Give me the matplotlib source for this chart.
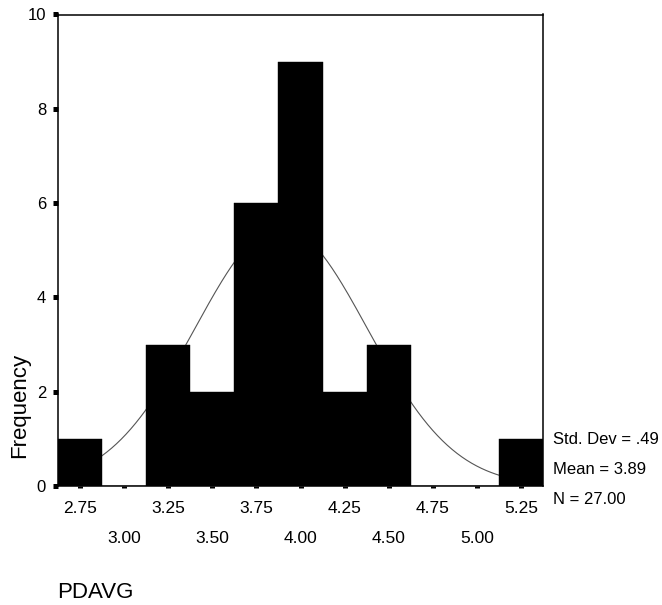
import matplotlib
matplotlib.use("Agg")
import matplotlib.pyplot as plt
import numpy as np

# histogram of PDAVG (bin midpoints, width .25)
bin_centers = [2.75, 3.00, 3.25, 3.50, 3.75, 4.00, 4.25, 4.50, 4.75, 5.00, 5.25]
counts = [1, 0, 3, 2, 6, 9, 2, 3, 0, 0, 1]
bin_width = 0.25

# summary stats printed beside the chart
std_dev = 0.49
mean = 3.89
n_cases = 27

row1_ticks = [2.75, 3.25, 3.75, 4.25, 4.75, 5.25]
row2_ticks = [3.00, 3.50, 4.00, 4.50, 5.00]
y_ticks = [0, 2, 4, 6, 8, 10]

plt.rcParams["font.family"] = ["Liberation Sans", "DejaVu Sans"]

fig = plt.figure(figsize=(6.62, 6.05), dpi=100)
ax = fig.add_axes([58 / 662, 119 / 605, 485 / 662, 471.5 / 605])

ax.bar(bin_centers, counts, width=bin_width, color="black",
       edgecolor="black", linewidth=0.3, zorder=3)

# normal curve scaled to the histogram
lo, hi = bin_centers[0] - bin_width / 2, bin_centers[-1] + bin_width / 2
xs = np.linspace(lo, hi, 300)
pdf = np.exp(-0.5 * ((xs - mean) / std_dev) ** 2) / (std_dev * np.sqrt(2 * np.pi))
ax.plot(xs, n_cases * bin_width * pdf, color="#555555", lw=0.8, zorder=2)

ax.set_xlim(lo, hi)
ax.set_ylim(0, 10)

ax.set_xticks(row1_ticks)
ax.set_xticklabels([f"{t:.2f}" for t in row1_ticks])
ax.set_xticks(row2_ticks, minor=True)
ax.set_xticklabels([f"{t:.2f}" for t in row2_ticks], minor=True)
ax.tick_params(axis="x", which="major", direction="out", length=1.5,
               width=3.6, pad=9.5, labelsize=12.5)
ax.tick_params(axis="x", which="minor", direction="out", length=1.5,
               width=3.6, pad=31, labelsize=12.5)

ax.set_yticks(y_ticks)
ax.tick_params(axis="y", direction="out", length=3.6, width=3.6,
               pad=5, labelsize=12)

for s in ax.spines.values():
    s.set_linewidth(1.1)

fig.text(20 / 662, 1 - 405 / 605, "Frequency", rotation=90,
         ha="center", va="center", fontsize=16)
fig.text(57 / 662, 1 - 593 / 605, "PDAVG", ha="left", va="center",
         fontsize=16)

stats = [f"Std. Dev = .{round(std_dev * 100):d}", f"Mean = {mean:.2f}",
         f"N = {n_cases:.2f}"]
for txt, ypix in zip(stats, [440, 470, 500]):
    fig.text(553 / 662, 1 - ypix / 605, txt, ha="left", va="center",
             fontsize=12)

fig.savefig("out.png", dpi=100)
plt.close(fig)
